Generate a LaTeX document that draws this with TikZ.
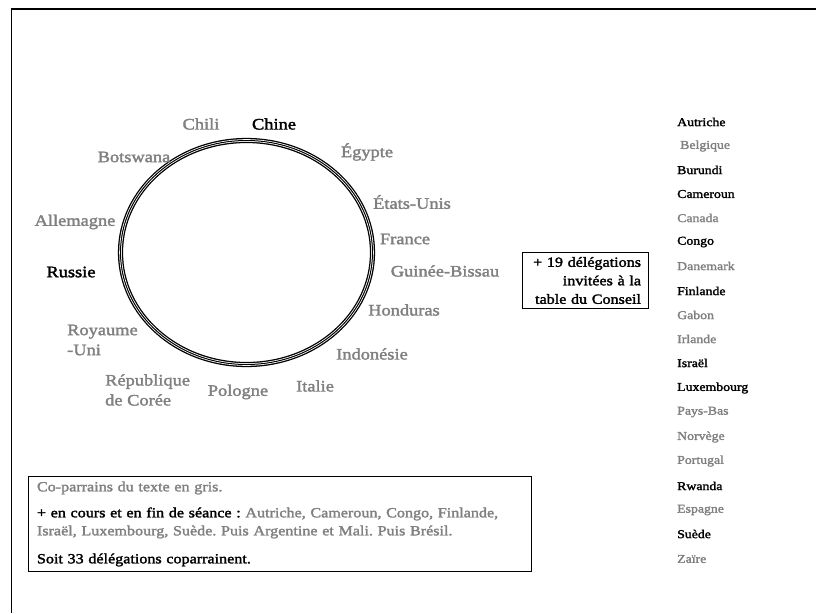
\documentclass[tikz,border=0pt]{standalone}
\usepackage{fontspec}
\setmainfont{Liberation Serif}[FakeStretch=1.15,FakeBold=2]
\frenchspacing
\definecolor{gr}{HTML}{808080}
\tikzset{
  lbl/.style={font=\fontsize{16}{20}\selectfont, text=gr, inner sep=0pt},
  lblk/.style={lbl, text=black},
  lst/.style={font=\fontsize{12}{14}\selectfont, text=gr, anchor=west, inner sep=0pt},
  lstk/.style={lst, text=black},
  frameline/.style={line cap=butt},
  boxnode/.style={draw, line width=0.9pt, inner sep=0pt},
}
\begin{document}
\begin{tikzpicture}[x=1pt,y=-1pt]
\useasboundingbox (0,0) rectangle (816,613);
% page frame
\coordinate (tl) at (11.5,9.3);
\coordinate (tr) at (816,9.3);
\coordinate (bl) at (11.5,613);
\draw[frameline, line width=2.2pt] (10.5,9.3) -- (tr);
\draw[frameline, line width=1.6pt] (11.5,8.2) -- (bl);
% table ellipse (triple line)
\coordinate (c) at (246.5,252.5);
\draw[line width=1.3pt, double=white, double distance=2.6pt] (c) ellipse [x radius=126pt, y radius=112pt];
\draw[line width=1pt] (c) ellipse [x radius=126pt, y radius=112pt];
% members around the table
\node[lbl]  (chili)    at (201,124) {Chili};
\node[lblk] (chine)    at (274,124) {Chine};
\node[lbl]  (egypte)   at (367,152) {Égypte};
\node[lbl]  (eu)       at (412,202) {États-Unis};
\node[lbl]  (france)   at (405,239) {France};
\node[lbl]  (gb)       at (445,271) {Guinée-Bissau};
\node[lbl]  (honduras) at (404,310) {Honduras};
\node[lbl]  (indo)     at (372,354) {Indonésie};
\node[lbl]  (italie)   at (315,386) {Italie};
\node[lbl]  (pologne)  at (238,392) {Pologne};
\node[lbl, anchor=west, align=left] (coree) at (105,390) {République\\de Corée};
\node[lbl, anchor=west, align=left] (ru) at (67,340) {Royaume\\-Uni};
\node[lblk] (russie)   at (71,272) {Russie};
\node[lbl]  (allem)    at (75,222) {Allemagne};
\node[lbl]  (botswana) at (134,157) {Botswana};
% invited box
\node[boxnode, font=\fontsize{14}{18.5}\selectfont, text width=112pt, align=right, inner xsep=7pt, inner ysep=4.5pt] (inv) at (585,280.5)
  {+ 19 délégations\\invitées à la\\table du Conseil};
% list
\node[lstk] (l1)  at (677,122) {Autriche};
\node[lst]  (l2)  at (680,146) {Belgique};
\node[lstk] (l3)  at (677,170) {Burundi};
\node[lstk] (l4)  at (677,194) {Cameroun};
\node[lst]  (l5)  at (677,218) {Canada};
\node[lstk] (l6)  at (677,242) {Congo};
\node[lst]  (l7)  at (677,266) {Danemark};
\node[lstk] (l8)  at (677,291) {Finlande};
\node[lst]  (l9)  at (677,315) {Gabon};
\node[lst]  (l10) at (677,339) {Irlande};
\node[lstk] (l11) at (677,363) {Israël};
\node[lstk] (l12) at (677,388) {Luxembourg};
\node[lst]  (l13) at (677,412) {Pays-Bas};
\node[lst]  (l14) at (677,437) {Norvège};
\node[lst]  (l15) at (677,461) {Portugal};
\node[lstk] (l16) at (677,486) {Rwanda};
\node[lst]  (l17) at (677,510) {Espagne};
\node[lstk] (l18) at (677,534) {Suède};
\node[lst]  (l19) at (677,559) {Zaïre};
% legend box
\node[boxnode, font=\fontsize{14}{18}\selectfont, text width=485pt, align=left, inner xsep=9pt, inner ysep=5pt] (legend) at (279.5,524)
  {\textcolor{gr}{Co-parrains du texte en gris.}\\[8pt]
   + en cours et en fin de séance : \textcolor{gr}{Autriche, Cameroun, Congo, Finlande,}\\
   \textcolor{gr}{Israël, Luxembourg, Suède. Puis Argentine et Mali. Puis Brésil.}\\[10pt]
   Soit 33 délégations coparrainent.};
\end{tikzpicture}
\end{document}
